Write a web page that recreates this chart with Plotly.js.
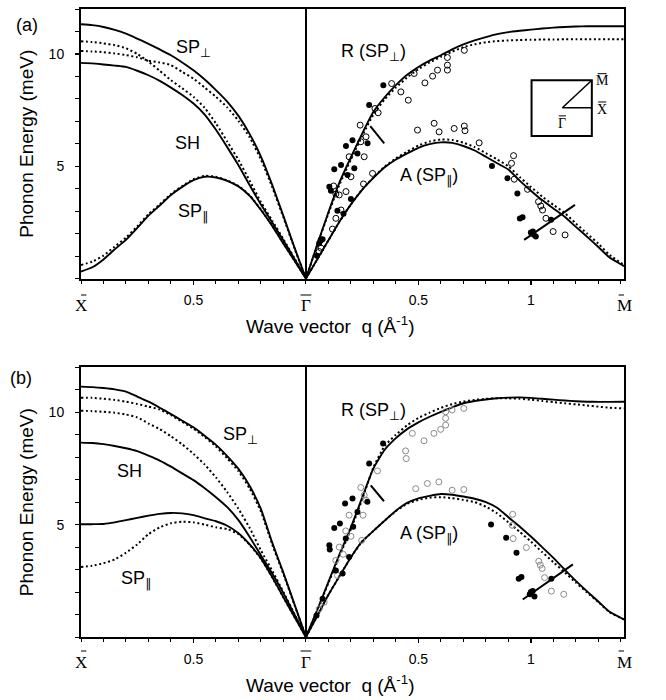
<!DOCTYPE html>
<html><head><meta charset="utf-8">
<script src="https://cdn.plot.ly/plotly-3.0.1.min.js"></script>
<style>html,body{margin:0;padding:0;background:#fff}</style>
</head><body><div id="chart" style="width:666px;height:700px"></div>
<script>
// ---- wave-vector grids (Å^-1) ----
// Γ̄–X̄ direction (drawn to the left of Γ̄), from X̄ to Γ̄
const qL = [1.0,0.95,0.9,0.85,0.8,0.75,0.7,0.65,0.6,0.55,0.5,0.45,0.4,0.35,0.3,0.25,0.2,0.15,0.1,0.05,0];
// Γ̄–M̄ direction (drawn to the right of Γ̄)
const qR = [0,0.05,0.1,0.15,0.2,0.25,0.3,0.35,0.4,0.45,0.5,0.55,0.6,0.65,0.7,0.75,0.8,0.85,0.9,0.95,1.0,1.05,1.1,1.15,1.2,1.25,1.3,1.35,1.414];

// ---- panel (a): calculated dispersion curves (meV) ----
const a_SPperp     = [11.32,11.28,11.2,11.07,10.9,10.68,10.45,10.2,9.94,9.62,9.27,8.86,8.39,7.88,7.24,6.43,5.43,4.17,2.78,1.35,0];
const a_SPperp_dot = [10.13,10.11,10.08,10.02,9.95,9.85,9.7,9.62,9.5,9.2,8.9,8.5,8.09,7.62,7.02,6.28,5.3,4.07,2.72,1.32,0];
const a_SH         = [9.6,9.58,9.53,9.48,9.42,9.25,9.05,8.8,8.5,8.17,7.79,7.3,6.62,5.85,5.04,4.15,3.29,2.49,1.69,0.86,0];
const a_SH_dot     = [10.56,10.53,10.47,10.39,10.25,10.0,9.66,9.25,8.83,8.47,8.09,7.6,6.9,6.1,5.28,4.35,3.4,2.58,1.75,0.88,0];
const a_SPpar      = [0.31,0.5,0.85,1.3,1.72,2.25,2.8,3.25,3.72,4.08,4.38,4.53,4.5,4.35,4.1,3.68,3.05,2.34,1.55,0.78,0];
const a_SPpar_dot  = [0.6,0.75,1.02,1.42,1.82,2.32,2.86,3.3,3.76,4.12,4.42,4.57,4.53,4.37,4.12,3.7,3.07,2.36,1.56,0.78,0];
const a_R     = [0,1.5,2.95,4.3,5.4,6.45,7.42,8.07,8.61,9.07,9.42,9.7,9.94,10.2,10.42,10.6,10.75,10.88,10.97,11.03,11.08,11.13,11.17,11.2,11.22,11.23,11.23,11.23,11.23];
const a_R_dot = [0,1.48,2.9,4.2,5.3,6.35,7.3,7.98,8.5,8.95,9.32,9.62,9.87,10.1,10.3,10.43,10.52,10.57,10.6,10.62,10.63,10.64,10.64,10.65,10.65,10.65,10.65,10.65,10.65];
const a_A     = [0,0.85,1.7,2.55,3.3,3.95,4.48,4.95,5.3,5.57,5.82,5.98,6.06,6.04,5.9,5.7,5.42,5.13,4.85,4.36,3.91,3.49,3.12,2.75,2.3,1.86,1.4,0.93,0.55];
const a_A_dot = [0,0.85,1.7,2.55,3.3,3.96,4.5,4.98,5.35,5.65,5.92,6.1,6.19,6.17,6.05,5.85,5.58,5.3,5.0,4.52,4.08,3.65,3.28,2.92,2.45,2.0,1.55,1.05,0.6];

// ---- panel (a): measured points (Γ̄–M̄) ----
const a_fill_q = [0.344,0.281,0.207,0.178,0.274,0.229,0.126,0.156,0.215,0.185,0.104,0.111,0.2,0.14,0.167,0.074,0.059,0.049,0.827,0.896,0.94,0.951,0.963,1.0,1.009,1.022,1.013,1.09];
const a_fill_E = [8.61,7.72,6.16,5.9,6.02,5.57,4.86,5.05,4.91,4.61,4.09,3.91,3.54,3.02,2.88,1.75,1.57,1.01,5.01,4.46,3.79,2.67,2.73,2.05,2.09,1.87,1.95,2.62];
const a_open_q = [0.629,0.704,0.629,0.629,0.585,0.563,0.529,0.481,0.381,0.422,0.455,0.307,0.321,0.241,0.267,0.244,0.192,0.259,0.2,0.178,0.123,0.133,0.156,0.133,0.118,0.067,0.059,0.296,0.256,0.496,0.57,0.592,0.659,0.704,0.707,0.77,0.923,0.914,0.926,0.985,1.034,1.044,1.052,1.067,1.099,1.152,0.148,0.067];
const a_open_E = [9.84,10.16,9.5,9.28,9.28,9.01,8.71,9.13,8.68,8.31,7.94,7.57,7.38,6.83,6.31,6.09,5.42,5.42,4.53,3.87,4.12,3.76,3.05,2.68,2.2,1.35,1.2,4.68,4.21,6.61,6.91,6.53,6.68,6.79,6.58,6.04,5.47,5.13,4.42,3.97,3.42,3.23,3.05,2.68,2.09,1.94,3.72,1.72];
const a_seg1_q = [0.286,0.348], a_seg1_E = [6.79,6.02];
const a_seg2_q = [0.970,1.196], a_seg2_E = [1.72,3.28];

// ---- panel (b): calculated dispersion curves (meV) ----
const b_SPperp     = [11.14,11.12,11.08,11.02,10.92,10.7,10.47,10.2,9.92,9.62,9.33,8.95,8.55,8.05,7.48,6.72,5.69,4.2,2.85,1.43,0];
const b_SPperp_dot = [10.65,10.64,10.6,10.55,10.47,10.37,10.25,10.12,9.87,9.57,9.27,8.9,8.48,7.95,7.38,6.6,5.58,4.12,2.8,1.4,0];
const b_SH         = [8.65,8.63,8.58,8.5,8.4,8.27,8.07,7.85,7.58,7.28,6.98,6.62,6.22,5.78,5.2,4.45,3.63,2.83,1.95,0.98,0];
const b_SH_dot     = [10.07,10.05,10.02,9.98,9.9,9.77,9.5,9.25,8.93,8.57,8.15,7.67,7.1,6.45,5.7,4.85,3.85,2.95,2.0,1.0,0];
const b_SPpar      = [5.02,5.02,5.03,5.1,5.2,5.3,5.4,5.48,5.52,5.5,5.42,5.28,5.15,4.95,4.62,4.12,3.5,2.67,1.77,0.88,0];
const b_SPpar_dot  = [3.12,3.17,3.28,3.45,3.75,4.12,4.58,4.88,5.06,5.13,5.1,5.0,4.88,4.8,4.58,4.1,3.48,2.65,1.76,0.87,0];
const b_R     = [0,1.2,2.45,3.7,4.88,6.2,7.5,8.33,8.85,9.25,9.55,9.8,10.02,10.22,10.4,10.5,10.57,10.62,10.65,10.66,10.64,10.6,10.56,10.52,10.49,10.47,10.46,10.46,10.47];
const b_R_dot = [0,1.18,2.4,3.62,4.8,6.12,7.55,8.5,9.0,9.42,9.75,9.98,10.2,10.36,10.48,10.55,10.6,10.62,10.62,10.6,10.56,10.5,10.45,10.4,10.35,10.3,10.25,10.2,10.17];
const b_A     = [0,0.93,1.88,2.72,3.55,4.25,4.72,5.18,5.62,5.97,6.17,6.28,6.36,6.33,6.25,6.15,6.0,5.75,5.33,4.92,4.47,4.0,3.52,3.0,2.5,2.03,1.58,1.12,0.78];
const b_A_dot = [0,0.93,1.88,2.72,3.55,4.25,4.72,5.18,5.6,5.93,6.1,6.2,6.22,6.18,6.1,6.0,5.8,5.5,5.1,4.68,4.25,3.78,3.33,2.88,2.42,1.98,1.55,1.1,0.78];

// ---- panel (b): measured points ----
const b_fill_q = [0.343,0.281,0.207,0.174,0.273,0.229,0.126,0.151,0.21,0.177,0.104,0.106,0.192,0.133,0.163,0.074,0.047,0.823,0.89,0.936,0.946,0.958,0.995,1.008,1.016,1.0,1.091];
const b_fill_E = [8.61,7.72,6.16,5.94,6.02,5.56,4.85,5.05,4.9,4.38,4.08,3.89,3.56,2.96,2.82,1.7,0.96,5.0,4.42,3.75,2.59,2.67,1.9,2.05,1.8,2.0,2.59];
const b_open_q = [0.621,0.621,0.621,0.599,0.569,0.525,0.473,0.443,0.446,0.318,0.244,0.259,0.266,0.192,0.254,0.177,0.2,0.148,0.166,0.133,0.14,0.081,0.059,0.248,0.488,0.54,0.591,0.65,0.702,0.702,0.65,0.919,0.917,0.921,0.98,1.035,1.042,1.05,1.061,1.091,1.146];
const b_open_E = [10.02,9.73,9.43,9.24,9.06,8.73,9.06,8.28,7.94,7.39,6.65,6.31,6.09,5.42,5.42,4.72,4.48,4.0,3.68,3.41,2.74,1.55,1.25,4.3,6.6,6.83,6.9,6.53,6.56,10.17,10.1,5.46,4.97,4.38,3.98,3.37,3.2,3.05,2.64,2.04,1.9];
const b_seg1_q = [0.288,0.347], b_seg1_E = [6.75,6.04];
const b_seg2_q = [0.964,1.187], b_seg2_E = [1.67,3.23];

// ---- tick labels ----
const xTickVals = [-0.5,0.5,1];
const xTickText = ['0.5','0.5','1'];
const pointVals = [-1,0,1.414];
const pointText = ['X','\u0393','M'];
const yTickVals = [5,10];

// ---- build traces ----
const neg = a => a.map(v => -v);
const traces = [];
function curve(x, y, xa, ya, dotted) {
  traces.push({x:x, y:y, xaxis:xa, yaxis:ya, mode:'lines', hoverinfo:'skip',
    line:{color:'#000', width: dotted ? 2 : 1.9, dash: dotted ? '2px,2.6px' : 'solid', shape:'spline', smoothing:0.5}});
}
function pts(x, y, xa, ya, open, col) {
  traces.push({x:x, y:y, xaxis:xa, yaxis:ya, mode:'markers', hoverinfo:'skip',
    marker: open ? {symbol:'circle-open', size:6, color:col, line:{width:1, color:col}}
                 : {symbol:'circle', size:6, color:'#000'}});
}
function seg(x, y, xa, ya) {
  traces.push({x:x, y:y, xaxis:xa, yaxis:ya, mode:'lines', hoverinfo:'skip', line:{color:'#000', width:2}});
}
// panel a
[[a_SPperp,false],[a_SPperp_dot,true],[a_SH,false],[a_SH_dot,true],[a_SPpar,false],[a_SPpar_dot,true]]
  .forEach(([y,d]) => curve(neg(qL), y, 'x', 'y', d));
[[a_R,false],[a_R_dot,true],[a_A,false],[a_A_dot,true]]
  .forEach(([y,d]) => curve(qR, y, 'x', 'y', d));
pts(a_open_q, a_open_E, 'x', 'y', true, '#000');
pts(a_fill_q, a_fill_E, 'x', 'y', false);
seg(a_seg1_q, a_seg1_E, 'x', 'y');
seg(a_seg2_q, a_seg2_E, 'x', 'y');
// panel b
[[b_SPperp,false],[b_SPperp_dot,true],[b_SH,false],[b_SH_dot,true],[b_SPpar,false],[b_SPpar_dot,true]]
  .forEach(([y,d]) => curve(neg(qL), y, 'x2', 'y2', d));
[[b_R,false],[b_R_dot,true],[b_A,false],[b_A_dot,true]]
  .forEach(([y,d]) => curve(qR, y, 'x2', 'y2', d));
pts(b_open_q, b_open_E, 'x2', 'y2', true, '#8a8a8a');
pts(b_fill_q, b_fill_E, 'x2', 'y2', false);
seg(b_seg1_q, b_seg1_E, 'x2', 'y2');
seg(b_seg2_q, b_seg2_E, 'x2', 'y2');

// ---- layout ----
const H = 700, T = 9, B = 63, L = 81, R = 42;
const PH = H - T - B, PW = 666 - L - R;
const py = p => (H - B - p) / PH;      // pixel row -> paper y
const px = p => (p - L) / PW;          // pixel col -> paper x
const sans = 'Liberation Sans, Arial, Helvetica, sans-serif';
const serif = 'Liberation Serif, Times New Roman, serif';
const SUBPERP = '<sub><span style="font-family:DejaVu Sans;color:#000">\u22a5</span></sub>';
const SUBPAR  = '<sub><span style="font-family:DejaVu Sans;color:#000">\u2225</span></sub>';

function xcfg(anchor) {
  return {anchor:anchor, domain:[0,1], range:[-1,1.414], tickmode:'array', tickvals:xTickVals, ticktext:xTickText,
    ticks:'outside', ticklen:4, tickwidth:1.3, tickcolor:'#000', ticklabelstandoff:4,
    showline:true, mirror:true, linewidth:2, linecolor:'#000', showgrid:false,
    zeroline:true, zerolinecolor:'#000', zerolinewidth:2,
    minor:{tickmode:'linear', tick0:0, dtick:0.1, ticks:'outside', ticklen:3, tickwidth:1, tickcolor:'#000', showgrid:false},
    tickfont:{family:sans, size:14, color:'#000'}, fixedrange:true};
}
function ycfg(anchor, dom) {
  return {anchor:anchor, domain:dom, range:[0,12], tickmode:'array', tickvals:yTickVals,
    ticks:'outside', ticklen:4, tickwidth:1.3, tickcolor:'#000', ticklabelstandoff:8,
    showline:true, mirror:true, linewidth:2, linecolor:'#000', showgrid:false, zeroline:false,
    minor:{tickmode:'linear', tick0:0, dtick:1, ticks:'outside', ticklen:4, tickwidth:1, tickcolor:'#000', showgrid:false},
    tickfont:{family:sans, size:14, color:'#000'}, fixedrange:true};
}
function yright(over, anchor) {
  return {overlaying:over, anchor:anchor, side:'right', range:[0,12], tickmode:'array', tickvals:yTickVals,
    ticks:'outside', ticklen:4, tickwidth:1.3, tickcolor:'#000', ticklabelstandoff:4,
    showline:false, showgrid:false, zeroline:false,
    minor:{tickmode:'linear', tick0:0, dtick:1, ticks:'outside', ticklen:4, tickwidth:1, tickcolor:'#000', showgrid:false},
    tickfont:{family:sans, size:14, color:'#000'}, fixedrange:true};
}

const ann = [];
const shapes = [];
function txt(text, x, y, xref, yref, size, fam, extra) {
  ann.push(Object.assign({text:text, x:x, y:y, xref:xref, yref:yref, showarrow:false,
    xanchor:'center', yanchor:'middle', font:{family:fam, size:size, color:'#000'}}, extra || {}));
}
function bar(xc, halfw, y, xref, yref) {
  shapes.push({type:'line', xref:xref, yref:yref, x0:xc - halfw, x1:xc + halfw, y0:y, y1:y, line:{color:'#000', width:1}});
}
// symmetry point labels (with overbars) and axis titles
[['x',306,295],['x2',662,651]].forEach(([xa,row,barRow]) => {
  pointVals.forEach((v,i) => {
    txt(pointText[i], v, py(row), xa, 'paper', 17, serif);
    bar(v, 0.024, py(barRow), xa, 'paper');
  });
});
txt('Wave vector\u00a0\u00a0q (\u00c5<sup>-1</sup>)', px(330), py(325), 'paper', 'paper', 19, sans);
txt('Wave vector\u00a0\u00a0q (\u00c5<sup>-1</sup>)', px(330), py(684), 'paper', 'paper', 19, sans);
txt('Phonon Energy (meV)', px(27), 0.5, 'paper', 'y domain', 19, sans, {textangle:-90});
txt('Phonon Energy (meV)', px(26), 0.5, 'paper', 'y2 domain', 19, sans, {textangle:-90});
txt('(a)', px(27), py(25), 'paper', 'paper', 18, sans);
txt('(b)', px(21), py(378), 'paper', 'paper', 18, sans);
// branch labels (a)
txt('SP' + SUBPERP, -0.50, 10.25, 'x', 'y', 18, sans);
txt('SH', -0.527, 6.04, 'x', 'y', 18, sans);
txt('SP' + SUBPAR, -0.50, 2.95, 'x', 'y', 18, sans);
txt('R (SP' + SUBPERP + ')', 0.30, 10.05, 'x', 'y', 18, sans);
txt('A (SP' + SUBPAR + ')', 0.545, 4.55, 'x', 'y', 18, sans);
// branch labels (b)
txt('SP' + SUBPERP, -0.29, 8.95, 'x2', 'y2', 18, sans);
txt('SH', -0.785, 7.38, 'x2', 'y2', 18, sans);
txt('SP' + SUBPAR, -0.757, 2.55, 'x2', 'y2', 18, sans);
txt('R (SP' + SUBPERP + ')', 0.30, 10.05, 'x2', 'y2', 18, sans);
txt('A (SP' + SUBPAR + ')', 0.545, 4.55, 'x2', 'y2', 18, sans);
// inset (surface Brillouin zone)
txt('M', 1.317, 8.80, 'x', 'y', 14, serif);
txt('X', 1.317, 7.54, 'x', 'y', 14, serif);
txt('\u0393', 1.14, 6.92, 'x', 'y', 14, serif);
bar(1.317, 0.02, 9.12, 'x', 'y');
bar(1.317, 0.018, 7.86, 'x', 'y');
bar(1.14, 0.016, 7.24, 'x', 'y');

shapes.push(
  {type:'rect', xref:'x', yref:'y', x0:1.003, x1:1.271, y0:6.34, y1:8.83, line:{color:'#000', width:2}},
  {type:'line', xref:'x', yref:'y', x0:1.14, y0:7.6, x1:1.271, y1:8.83, line:{color:'#000', width:1.5}},
  {type:'line', xref:'x', yref:'y', x0:1.14, y0:7.6, x1:1.271, y1:7.6, line:{color:'#000', width:1.5}}
);

const layout = {
  width:666, height:700, margin:{l:L, r:R, t:T, b:B}, paper_bgcolor:'#fff', plot_bgcolor:'#fff',
  showlegend:false, font:{family:sans, color:'#000'},
  xaxis: xcfg('y'), xaxis2: xcfg('y2'),
  yaxis: ycfg('x', [py(278.5), 1]), yaxis2: ycfg('x2', [0, py(367.3)]),
  yaxis3: yright('y', 'x'), yaxis4: yright('y2', 'x2'),
  annotations: ann, shapes: shapes
};
Plotly.newPlot('chart', traces, layout, {staticPlot:true, displayModeBar:false});
</script></body></html>
